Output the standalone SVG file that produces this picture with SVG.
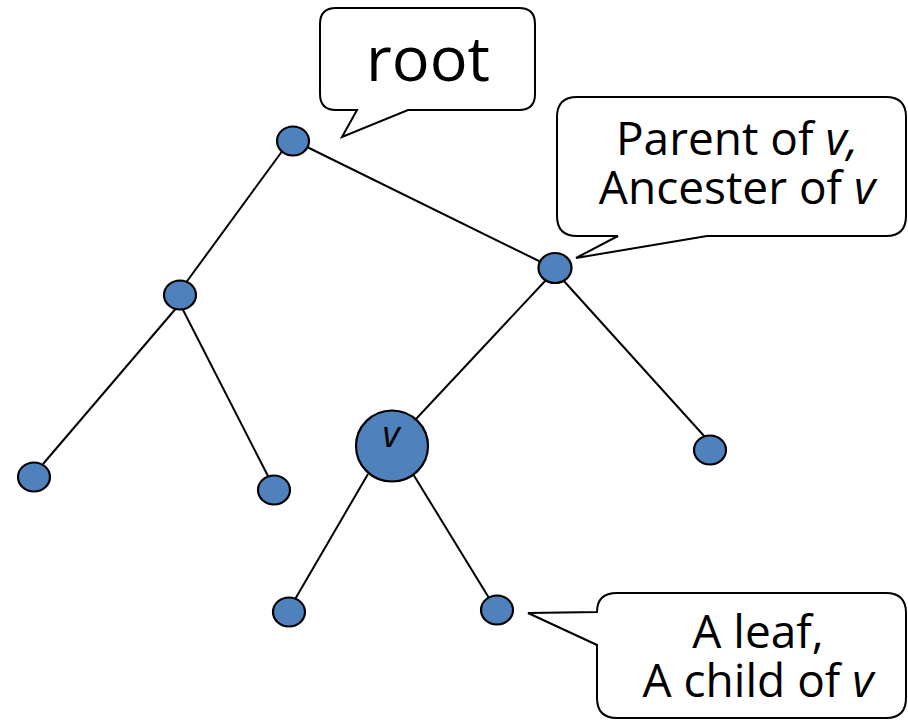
<svg xmlns="http://www.w3.org/2000/svg" width="908" height="721" viewBox="0 0 908 721">
  <style>
    .edge { stroke: #000; stroke-width: 2; fill: none; }
    .node { fill: #4F81BD; stroke: #000; stroke-width: 2.2; }
    .callout { fill: #fff; stroke: #000; stroke-width: 2; stroke-linejoin: miter; }
    .label { font-family: "Open Sans", "Liberation Sans", sans-serif; fill: #000; text-anchor: middle; }
    .it { font-style: italic; }
  </style>
  <rect width="908" height="721" fill="#fff"/>

  <!-- tree edges -->
  <g id="edges">
    <line class="edge" x1="283" y1="150" x2="185" y2="284"/>
    <line class="edge" x1="305" y1="146" x2="543" y2="263"/>
    <line class="edge" x1="178" y1="306" x2="43" y2="464"/>
    <line class="edge" x1="181" y1="306" x2="269" y2="478"/>
    <line class="edge" x1="546" y1="280" x2="416" y2="419"/>
    <line class="edge" x1="563" y1="280" x2="705" y2="437"/>
    <line class="edge" x1="368" y1="474" x2="294" y2="601"/>
    <line class="edge" x1="413" y1="474" x2="489" y2="598"/>
  </g>

  <!-- tree nodes -->
  <g id="root"><ellipse class="node" cx="293" cy="141" rx="16" ry="14.5"/></g>
  <g id="n-left"><ellipse class="node" cx="180" cy="295" rx="16" ry="14.5"/></g>
  <g id="n-parent"><ellipse class="node" cx="555" cy="268" rx="16.5" ry="15"/></g>
  <g id="leaf-a"><ellipse class="node" cx="34" cy="477" rx="16" ry="14.5"/></g>
  <g id="leaf-b"><ellipse class="node" cx="274" cy="490" rx="16" ry="14.5"/></g>
  <g id="leaf-c"><ellipse class="node" cx="710" cy="450" rx="16" ry="14.5"/></g>
  <g id="v">
    <ellipse class="node" cx="392" cy="446" rx="36" ry="35.5"/>
    <text class="label it" x="391" y="447" font-size="37">v</text>
  </g>
  <g id="leaf-d"><ellipse class="node" cx="289" cy="612" rx="16" ry="14.5"/></g>
  <g id="leaf-e"><ellipse class="node" cx="497" cy="610" rx="16" ry="14.5"/></g>

  <!-- callouts -->
  <g id="callout-root">
    <path class="callout" d="M336,8 H519 Q535,8 535,24 V94 Q535,110 519,110 H408 L342,137 L357,110 H336 Q320,110 320,94 V24 Q320,8 336,8 Z"/>
    <text class="label" x="428" y="81" font-size="63">root</text>
  </g>
  <g id="callout-parent">
    <path class="callout" d="M577,97 H886 Q906,97 906,117 V216 Q906,236 886,236 H707 L576,258 L618,236 H577 Q557,236 557,216 V117 Q557,97 577,97 Z"/>
    <text class="label" x="737" y="155" font-size="46">Parent of <tspan class="it">v,</tspan></text>
    <text class="label" x="737" y="204" font-size="46">Ancester of <tspan class="it">v</tspan></text>
  </g>
  <g id="callout-leaf">
    <path class="callout" d="M617,593 H886 Q906,593 906,613 V698 Q906,718 886,718 H617 Q597,718 597,698 V645 L528,613 L597,612 Q597,593 617,593 Z"/>
    <text class="label" x="758" y="648" font-size="46">A leaf,</text>
    <text class="label" x="758" y="697" font-size="46">A child of <tspan class="it">v</tspan></text>
  </g>
</svg>
